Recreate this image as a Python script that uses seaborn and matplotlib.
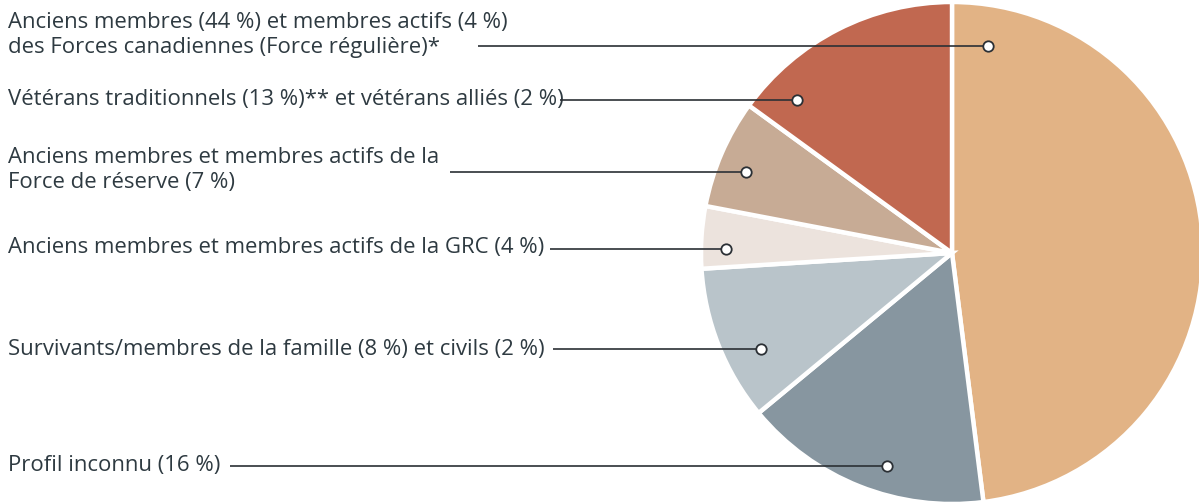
import matplotlib
matplotlib.use("Agg")
import matplotlib.pyplot as plt
import seaborn as sns

# data (clockwise from 12 o'clock)
categories = [
    "Anciens membres (44 %) et membres actifs (4 %)\ndes Forces canadiennes (Force régulière)*",
    "Profil inconnu (16 %)",
    "Survivants/membres de la famille (8 %) et civils (2 %)",
    "Anciens membres et membres actifs de la GRC (4 %)",
    "Anciens membres et membres actifs de la\nForce de réserve (7 %)",
    "Vétérans traditionnels (13 %)** et vétérans alliés (2 %)",
]
shares = [48, 16, 10, 4, 7, 15]
colors = ["#e2b385", "#8796a0", "#b9c4ca", "#ece3dd", "#c7ab95", "#c16850"]

# layout in pixels (figure is 1199 x 503)
W, H = 1199, 503
cx, cy, R = 952, 253, 251
label_y = [35, 465, 349, 247, 170, 100]      # centre of each label block
line_y = [46, 466, 349, 249, 172, 100]
line_x0 = [478, 230, 553, 550, 450, 560]
dot_x = [988, 887, 761, 726, 746, 797]

sns.set_theme(style="white")
plt.rcParams["font.family"] = ["Open Sans", "DejaVu Sans"]

fig = plt.figure(figsize=(W / 100, H / 100), dpi=100)
ax = fig.add_axes([0, 0, 1, 1])

ax.pie(shares, colors=colors, startangle=90, counterclock=False, radius=1,
       wedgeprops=dict(edgecolor="white", linewidth=3.2))
ax.set_aspect("auto")
ax.set_xlim(-cx / R, (W - cx) / R)
ax.set_ylim(-(H - cy) / R, cy / R)
ax.axis("off")

def px(x, y):
    return (x - cx) / R, (cy - y) / R

text_col = "#2e3a41"
for lab, ly, yy, x0, dx in zip(categories, label_y, line_y, line_x0, dot_x):
    tx, ty = px(8, ly)
    ax.text(tx, ty, lab, ha="left", va="center", fontsize=15.9,
            color=text_col, linespacing=1.25)
    a, b = px(x0, yy)
    c, d = px(dx, yy)
    ax.plot([a, c], [b, d], color="#2b3035", lw=1.2, solid_capstyle="butt", zorder=5)
    ax.plot([c], [d], marker="o", ms=7.5, mfc="white", mec="#2b3035", mew=1.3, zorder=6)

fig.savefig("out.png", dpi=100)
